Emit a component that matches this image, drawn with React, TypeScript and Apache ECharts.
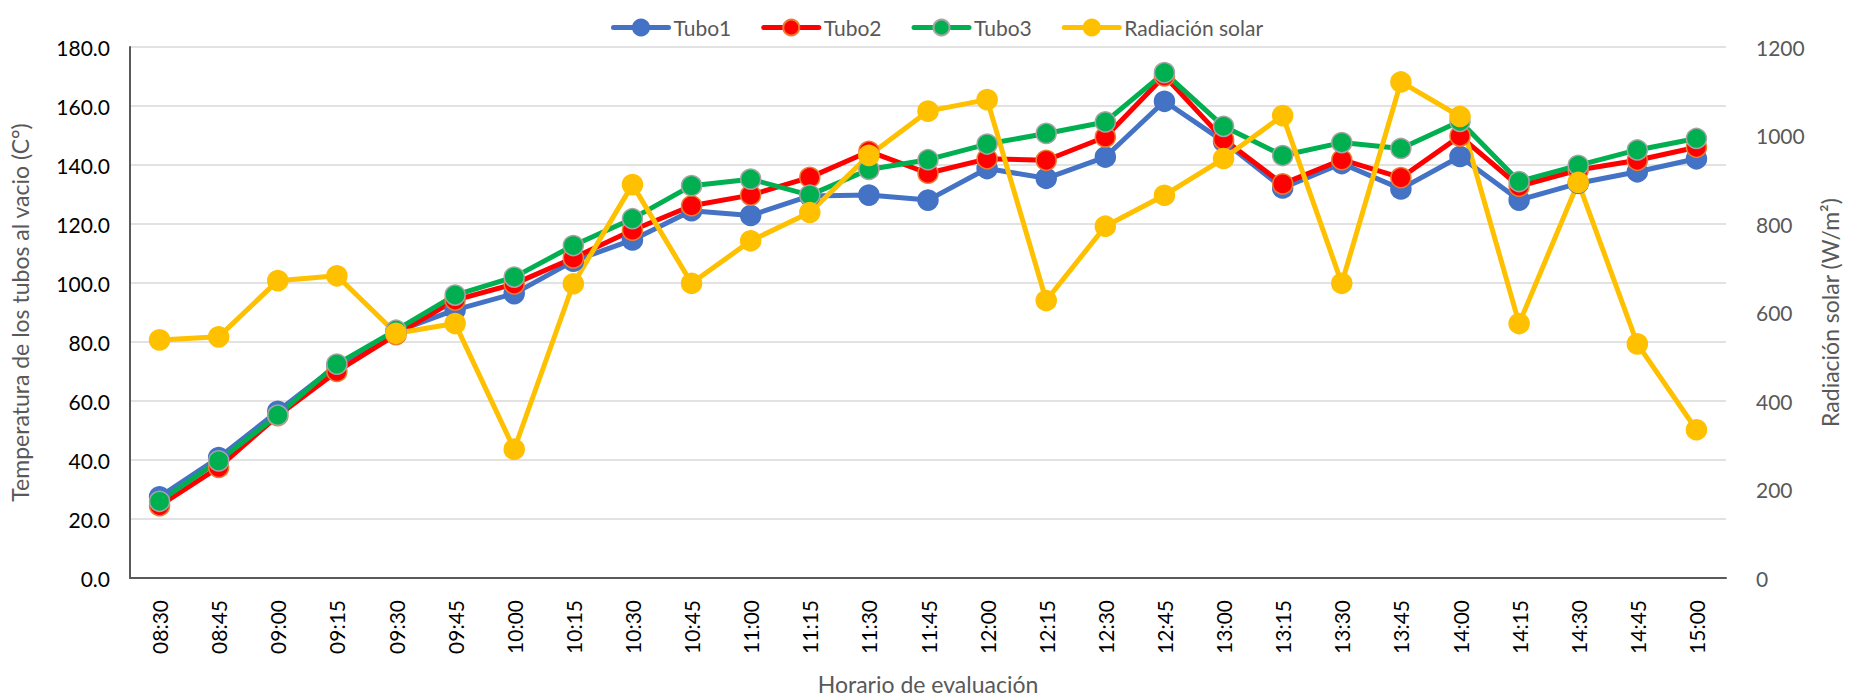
import React, { useEffect, useRef } from "react";
import * as echarts from "echarts";

const categories = [
  "08:30", "08:45", "09:00", "09:15", "09:30", "09:45", "10:00", "10:15", "10:30",
  "10:45", "11:00", "11:15", "11:30", "11:45", "12:00", "12:15", "12:30", "12:45",
  "13:00", "13:15", "13:30", "13:45", "14:00", "14:15", "14:30", "14:45", "15:00",
];

const tubo1 = [27.5, 40.8, 56.5, 72.0, 83.5, 90.9, 96.4, 107.4, 114.6, 124.5, 122.9, 129.5, 129.8, 128.1, 138.8, 135.5, 142.7, 161.6, 148.0, 132.2, 140.5, 131.9, 142.9, 128.1, 133.8, 137.7, 142.1];
const tubo2 = [24.5, 37.5, 55.0, 70.0, 82.5, 94.2, 99.7, 108.5, 117.9, 126.2, 129.8, 135.8, 144.6, 137.2, 142.1, 141.6, 149.5, 170.2, 148.7, 133.6, 141.8, 135.7, 149.8, 132.8, 138.3, 141.6, 146.0];
const tubo3 = [26.0, 39.7, 55.2, 72.5, 84.0, 95.9, 102.0, 112.7, 121.8, 133.0, 135.2, 129.8, 138.5, 141.8, 147.1, 150.7, 154.6, 171.3, 153.1, 143.2, 147.6, 145.6, 154.8, 134.4, 139.9, 145.1, 149.0];
const radiacion = [538, 545, 672, 683, 553, 575, 291, 665, 889, 666, 762, 826, 955, 1055, 1081, 627, 795, 865, 948, 1045, 666, 1121, 1043, 575, 894, 529, 335];

const FONT = "Lato";

export default function App() {
  const ref = useRef<HTMLDivElement>(null);
  useEffect(() => {
    document.body.style.margin = "0";
    const chart = echarts.init(ref.current!, null, { renderer: "svg" });
    const mk = (name: string, data: number[], color: string, border: string, yIdx: number) => ({
      name,
      type: "line",
      yAxisIndex: yIdx,
      data,
      symbol: "circle",
      symbolSize: 20,
      lineStyle: { color, width: 5, cap: "round", join: "round" },
      itemStyle: { color, borderColor: border, borderWidth: 1.5 },
      emphasis: { disabled: true },
    });
    chart.setOption({
      animation: false,
      textStyle: { fontFamily: FONT },
      legend: {
        top: 12,
        left: 606,
        itemWidth: 55,
        itemHeight: 20,
        itemGap: 30,
        lineStyle: { width: 5 },
        textStyle: { color: "#595959", fontSize: 21, fontFamily: FONT },
        data: ["Tubo1", "Tubo2", "Tubo3", "Radiación solar"],
      },
      grid: { left: 124, right: 104, top: 47, bottom: 108, containLabel: false },
      xAxis: {
        type: "category",
        data: categories,
        boundaryGap: true,
        name: "Horario de evaluación",
        nameLocation: "middle",
        nameGap: 94,
        nameTextStyle: { color: "#595959", fontSize: 23, fontFamily: FONT },
        axisLine: { lineStyle: { color: "#595959", width: 2 } },
        axisTick: { show: false },
        axisLabel: { rotate: 90, color: "#000", fontSize: 21, margin: 22, fontFamily: FONT, interval: 0 },
      },
      yAxis: [
        {
          type: "value",
          min: 0,
          max: 180,
          interval: 20,
          name: "Temperatura de los tubos al vacio (C°)",
          nameLocation: "middle",
          nameRotate: 90,
          nameGap: 99,
          nameTextStyle: { color: "#595959", fontSize: 23, fontFamily: FONT },
          axisLine: { show: true, lineStyle: { color: "#595959", width: 2 } },
          axisTick: { show: false },
          axisLabel: { color: "#000", fontSize: 21, margin: 20, fontFamily: FONT, formatter: (v: number) => v.toFixed(1) },
          splitLine: { show: true, lineStyle: { color: "#D9D9D9", width: 1.5 } },
        },
        {
          type: "value",
          min: 0,
          max: 1200,
          interval: 200,
          position: "right",
          name: "Radiación solar (W/m²)",
          nameLocation: "middle",
          nameRotate: 90,
          nameGap: 92,
          nameTextStyle: { color: "#595959", fontSize: 23, fontFamily: FONT },
          axisLine: { show: false },
          axisTick: { show: false },
          axisLabel: { color: "#595959", fontSize: 21, margin: 30, fontFamily: FONT, formatter: (v: number) => String(v) },
          splitLine: { show: false },
        },
      ],
      series: [
        mk("Tubo1", tubo1, "#4472C4", "#4472C4", 0),
        mk("Tubo2", tubo2, "#FF0000", "#ED7D31", 0),
        mk("Tubo3", tubo3, "#00B050", "#A5A5A5", 0),
        mk("Radiación solar", radiacion, "#FFC000", "#FFC000", 1),
      ],
    });
    return () => chart.dispose();
  }, []);
  return <div ref={ref} style={{ width: 1849, height: 700 }} />;
}
